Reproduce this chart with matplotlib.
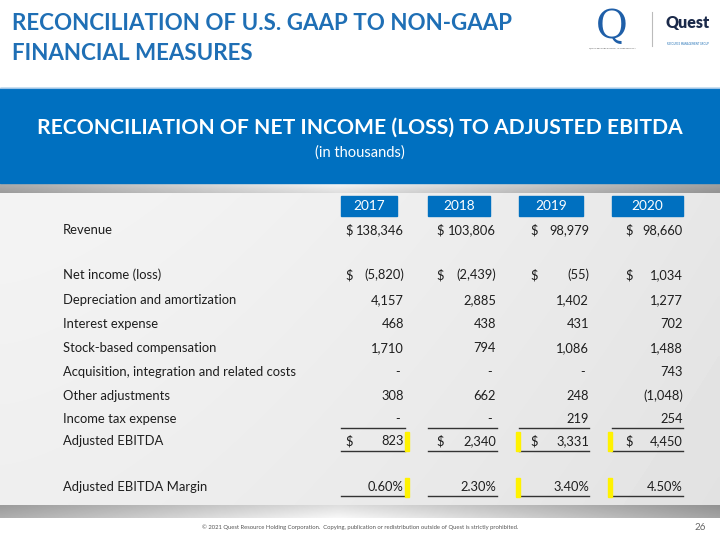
import numpy as np
import matplotlib
matplotlib.use('Agg')
import matplotlib.pyplot as plt
from matplotlib.patches import Rectangle

plt.rcParams['font.family'] = ['Lato', 'DejaVu Sans']

# data
years = ['2017', '2018', '2019', '2020']
row_labels = ['Revenue', 'Net income (loss)', 'Depreciation and amortization',
              'Interest expense', 'Stock-based compensation',
              'Acquisition, integration and related costs', 'Other adjustments',
              'Income tax expense', 'Adjusted EBITDA', 'Adjusted EBITDA Margin']
revenue = [138346, 103806, 98979, 98660]
net_income = [-5820, -2439, -55, 1034]
dep_amort = [4157, 2885, 1402, 1277]
interest = [468, 438, 431, 702]
stock_comp = [1710, 794, 1086, 1488]
acquisition = [0, 0, 0, 743]
other_adj = [308, 662, 248, -1048]
income_tax = [0, 0, 219, 254]
adj_ebitda = [823, 2340, 3331, 4450]
ebitda_margin = [0.60, 2.30, 3.40, 4.50]

rows = [revenue, net_income, dep_amort, interest, stock_comp,
        acquisition, other_adj, income_tax, adj_ebitda]
dollar_rows = [0, 1, 8]

BLUE = '#0070C0'
TITLE_BLUE = '#1F6FB5'
TXT = '#1E1E1E'


def fmt(v):
    if v == 0:
        return '-'
    if v < 0:
        return '({:,})'.format(-v)
    return '{:,}'.format(v)


fig = plt.figure(figsize=(7.2, 5.4), dpi=100)
ax = fig.add_axes([0, 0, 1, 1])


def grad(x0, x1, y0, y1, arr):
    ax.imshow(arr, extent=(x0, x1, y1, y0), aspect='auto', cmap='gray',
              vmin=0, vmax=1, origin='upper', interpolation='bilinear', zorder=0)


# content background
xx = np.linspace(0, 1, 200)
yy = np.linspace(0, 1, 60)[:, None]
bg = 0.955 - 0.05 * xx[None, :] ** 1.5 - 0.02 * yy
grad(0, 720, 192, 506, bg)

# silver bars
prof = 0.97 - 0.33 * np.abs(xx - 0.47) / 0.53
vert = np.linspace(1.0, 0.9, 12)[:, None]
grad(0, 720, 183, 193, prof[None, :] * vert)
grad(0, 720, 505, 518, prof[None, :] * vert[::-1])

# blue banner
ax.add_patch(Rectangle((0, 88), 720, 95, color=BLUE, zorder=1))
ax.plot([0, 720], [88, 88], color='#9DC3E6', lw=0.8, zorder=2)

# slide title
ax.text(12, 24, 'RECONCILIATION OF U.S. GAAP TO NON-GAAP', fontsize=16.1,
        fontweight='bold', color=TITLE_BLUE, va='center', ha='left')
ax.text(12, 53, 'FINANCIAL MEASURES', fontsize=16.1,
        fontweight='bold', color=TITLE_BLUE, va='center', ha='left')

# logos
ax.text(612, 28, 'Q', fontsize=28, family='DejaVu Serif', color='#1F5FA8',
        ha='center', va='center')
ax.text(612, 48, 'QUEST RESOURCE HOLDING CORPORATION', fontsize=1.6,
        color='#555555', ha='center', va='center')
ax.plot([652, 652], [12, 46], color='#BBBBBB', lw=0.8)
ax.text(688, 23, 'Quest', fontsize=11.5, fontweight='heavy', color='#1B2A4A',
        ha='center', va='center')
ax.text(688, 44, 'RESOURCE MANAGEMENT GROUP', fontsize=1.8, color='#1F6FB5',
        ha='center', va='center')

# banner title
ax.text(360, 128, 'RECONCILIATION OF NET INCOME (LOSS) TO ADJUSTED EBITDA',
        fontsize=15.25, fontweight='bold', color='white', ha='center', va='center')
ax.text(360, 153, '(in thousands)', fontsize=10.5, color='white',
        ha='center', va='center')

# table layout
row_y = [230, 275, 300, 324, 348, 372, 396, 419, 441, 487]
box_x = [(341, 397), (428, 490), (519, 583), (612, 683)]
line_x = [(341, 405), (428, 497), (519, 589), (612, 683)]
val_r = [404, 496, 589, 683]
dol_x = [345, 436, 530, 625]
fs = 9.4
vfs = 9.3

for j, yr in enumerate(years):
    x0, x1 = box_x[j]
    ax.add_patch(Rectangle((x0, 196), x1 - x0, 20, color=BLUE, zorder=2))
    ax.text((x0 + x1) / 2, 206.5, yr, fontsize=9.8, color='white',
            ha='center', va='center', zorder=3)

for i, lab in enumerate(row_labels):
    ax.text(63, row_y[i], lab, fontsize=fs, color=TXT, ha='left', va='center')

for i, vals in enumerate(rows):
    for j, v in enumerate(vals):
        s = fmt(v)
        xr = val_r[j] - (4 if v == 0 else 0)
        ax.text(xr, row_y[i], s, fontsize=vfs, color=TXT, ha='right', va='center')
        if i in dollar_rows:
            ax.text(dol_x[j], row_y[i], '$', fontsize=vfs, color=TXT,
                    ha='left', va='center')

for j, v in enumerate(ebitda_margin):
    ax.text(val_r[j], row_y[9], '{:.2f}%'.format(v), fontsize=vfs, color=TXT,
            ha='right', va='center')

# underlines
for yl in [428, 451, 496]:
    for x0, x1 in line_x:
        ax.plot([x0, x1], [yl, yl], color='#333333', lw=1.0, zorder=3)

# yellow change markers
marks = [(405, 432), (405, 478), (516, 432), (516, 478), (608, 432), (608, 478)]
for mx, my in marks:
    ax.add_patch(Rectangle((mx, my), 4, 19, color='#FFF200', zorder=4))

# footer
ax.text(360, 527, '\u00a9 2021 Quest Resource Holding Corporation.  Copying, publication '
        'or redistribution outside of Quest is strictly prohibited.',
        fontsize=4.2, color='#555555', ha='center', va='center')
ax.text(706, 527, '26', fontsize=7, color='#666666', ha='right', va='center')

ax.set_xlim(0, 720)
ax.set_ylim(540, 0)
ax.axis('off')
fig.savefig('out.png', dpi=100)
